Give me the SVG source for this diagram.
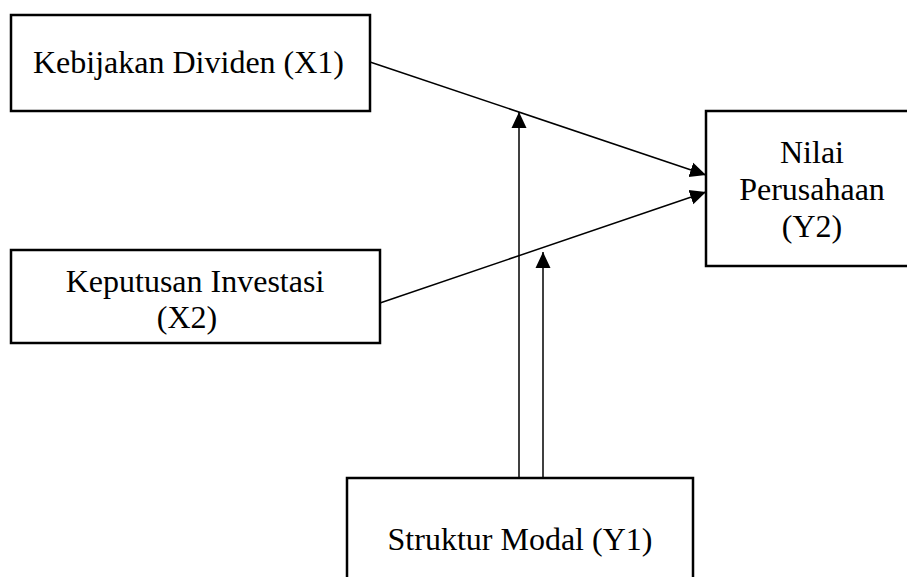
<svg xmlns="http://www.w3.org/2000/svg" width="907" height="577" viewBox="0 0 907 577">
<style>
.box{fill:#fff;stroke:#000;stroke-width:2.5}
.t{font-family:"Liberation Serif","Times New Roman",serif;font-size:32px;fill:#000}
.c{stroke:#000;stroke-width:1.5;fill:none}
</style>
<defs>
<marker id="ah" markerUnits="userSpaceOnUse" markerWidth="18" markerHeight="16" refX="16" refY="8" orient="auto">
<path d="M0,0.5 L16,8 L0,15.5 Z" fill="#000"/>
</marker>
</defs>
<rect width="907" height="577" fill="#fff"/>
<g id="connectors">
<line class="c" x1="370" y1="62" x2="706" y2="175" marker-end="url(#ah)"/>
<line class="c" x1="380" y1="303" x2="706" y2="192" marker-end="url(#ah)"/>
<line class="c" x1="519" y1="478" x2="519" y2="112" marker-end="url(#ah)"/>
<line class="c" x1="543" y1="478" x2="543" y2="252" marker-end="url(#ah)"/>
</g>
<g id="x1">
<rect class="box" x="11" y="15" width="359" height="96"/>
<text class="t" x="33" y="73">Kebijakan Dividen (X1)</text>
</g>
<g id="x2">
<rect class="box" x="11" y="250" width="369" height="93"/>
<text class="t" x="195" y="292" text-anchor="middle">Keputusan Investasi</text>
<text class="t" x="187" y="328" text-anchor="middle">(X2)</text>
</g>
<g id="y2">
<rect class="box" x="706" y="111" width="210" height="155"/>
<text class="t" x="812" y="163" text-anchor="middle">Nilai</text>
<text class="t" x="812" y="200" text-anchor="middle">Perusahaan</text>
<text class="t" x="812" y="237" text-anchor="middle">(Y2)</text>
</g>
<g id="y1">
<rect class="box" x="347" y="478" width="346" height="120"/>
<text class="t" x="520" y="550" text-anchor="middle">Struktur Modal (Y1)</text>
</g>
</svg>
